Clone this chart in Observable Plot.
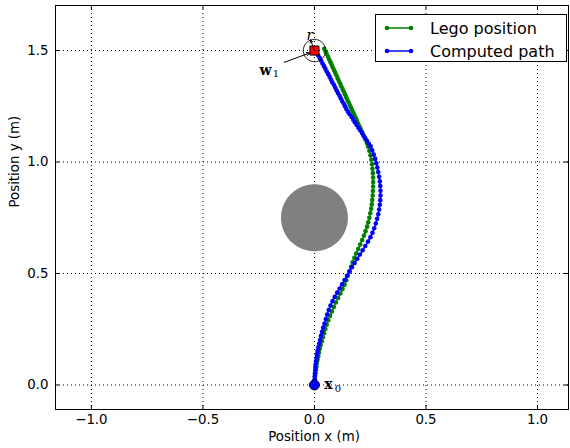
<!DOCTYPE html>
<html>
<head>
<meta charset="utf-8">
<script src="https://cdn.jsdelivr.net/npm/d3@7"></script>
<script src="https://cdn.jsdelivr.net/npm/@observablehq/plot@0.6"></script>
<style>
  html, body { margin: 0; padding: 0; background: #fff; }
  #chart { width: 570px; height: 448px; }
</style>
</head>
<body>
<div id="chart"></div>
<script>
// ---------------- data ----------------
const xTicks = [-1, -0.5, 0, 0.5, 1];
const yTicks = [0, 0.5, 1, 1.5];
const xDomain = [-1.161, 1.139];
const yDomain = [-0.11, 1.702];

const seriesNames = ["Lego position", "Computed path"];
const seriesColors = ["#008000", "#0000ff"];

// Lego position (green)
const lego = [
[0.000,0.000],[0.001,0.013],[0.002,0.026],[0.003,0.040],[0.005,0.054],[0.007,0.068],[0.009,0.083],[0.011,0.098],
[0.014,0.113],[0.017,0.129],[0.020,0.145],[0.024,0.162],[0.028,0.179],[0.033,0.196],[0.038,0.214],[0.043,0.232],
[0.049,0.251],[0.055,0.270],[0.062,0.290],[0.070,0.310],[0.078,0.330],[0.087,0.350],[0.096,0.370],[0.106,0.390],
[0.116,0.410],[0.126,0.430],[0.135,0.450],[0.143,0.470],[0.150,0.490],[0.157,0.510],[0.164,0.530],[0.171,0.550],
[0.179,0.570],[0.187,0.590],[0.196,0.610],[0.205,0.630],[0.214,0.650],[0.222,0.670],[0.229,0.690],[0.236,0.710],
[0.241,0.730],[0.246,0.750],[0.250,0.770],[0.254,0.790],[0.257,0.810],[0.259,0.830],[0.261,0.850],[0.262,0.870],
[0.263,0.890],[0.263,0.910],[0.263,0.930],[0.262,0.950],[0.260,0.970],[0.258,0.990],[0.255,1.010],[0.251,1.030],
[0.246,1.050],[0.240,1.070],[0.235,1.085],[0.229,1.100],[0.224,1.112],[0.218,1.124],[0.213,1.136],[0.207,1.148],
[0.202,1.160],[0.196,1.172],[0.191,1.184],[0.186,1.196],[0.180,1.208],[0.175,1.220],[0.169,1.232],[0.164,1.244],
[0.158,1.256],[0.153,1.268],[0.147,1.280],[0.142,1.292],[0.137,1.304],[0.131,1.316],[0.126,1.328],[0.120,1.340],
[0.115,1.352],[0.109,1.364],[0.104,1.376],[0.099,1.388],[0.093,1.400],[0.088,1.412],[0.082,1.424],[0.077,1.436],
[0.072,1.448],[0.066,1.460],[0.061,1.472],[0.055,1.484],[0.050,1.496],[0.044,1.508]
];

// Computed path (blue)
const computed = [
[0.000,0.000],[0.000,0.012],[0.001,0.025],[0.001,0.038],[0.002,0.051],[0.003,0.064],[0.004,0.078],[0.005,0.092],
[0.007,0.106],[0.009,0.121],[0.011,0.136],[0.014,0.152],[0.017,0.168],[0.021,0.185],[0.025,0.202],[0.029,0.220],
[0.034,0.238],[0.039,0.257],[0.045,0.276],[0.051,0.296],[0.057,0.316],[0.064,0.336],[0.072,0.356],[0.081,0.376],
[0.091,0.395],[0.102,0.414],[0.113,0.433],[0.124,0.452],[0.135,0.471],[0.146,0.490],[0.157,0.509],[0.168,0.528],
[0.180,0.547],[0.192,0.566],[0.204,0.585],[0.216,0.604],[0.228,0.623],[0.240,0.643],[0.251,0.663],[0.260,0.683],
[0.268,0.703],[0.275,0.724],[0.281,0.745],[0.286,0.766],[0.290,0.787],[0.293,0.808],[0.295,0.829],[0.296,0.850],
[0.296,0.871],[0.295,0.892],[0.293,0.913],[0.290,0.934],[0.286,0.955],[0.282,0.975],[0.277,0.995],[0.272,1.014],
[0.266,1.033],[0.259,1.052],[0.252,1.070],[0.244,1.082],[0.236,1.094],[0.228,1.106],[0.220,1.118],[0.213,1.130],
[0.205,1.142],[0.197,1.154],[0.189,1.166],[0.181,1.178],[0.174,1.190],[0.166,1.202],[0.158,1.214],[0.150,1.226],
[0.143,1.238],[0.137,1.250],[0.131,1.262],[0.124,1.274],[0.118,1.286],[0.112,1.298],[0.105,1.310],[0.099,1.322],
[0.093,1.334],[0.087,1.346],[0.080,1.358],[0.074,1.370],[0.068,1.382],[0.062,1.394],[0.055,1.406],[0.049,1.418],
[0.043,1.430],[0.036,1.442],[0.030,1.454],[0.024,1.466],[0.017,1.478],[0.009,1.490],[0.000,1.500]
];

const startPoint = [[0, 0]];
const waypoint = [[0, 1.5]];
const obstacleCenter = [0, 0.75];
const obstacleRadius = 0.15;
const waypointRadius = 0.05;
const rArrow = [{x1: 0, y1: 1.5, x2: -0.017, y2: 1.547}];
const wArrow = [{x1: -0.135, y1: 1.447, x2: -0.022, y2: 1.489}];

// ---------------- helpers ----------------
const circlePts = (c, r) => d3.range(0, 361, 3).map(a => [c[0] + r * Math.cos(a * Math.PI / 180), c[1] + r * Math.sin(a * Math.PI / 180)]);
const X = d => d[0], Y = d => d[1];

const legend = (index, scales, values, dims) => {
  const right = dims.width - dims.marginRight;
  const top = dims.marginTop;
  const g = d3.create("svg:g").attr("text-anchor", "start");
  const bx = right - 193, by = top + 9, bw = 191, bh = 47;
  g.append("rect").attr("x", bx + 0.5).attr("y", by + 0.5).attr("width", bw).attr("height", bh)
    .attr("fill", "white").attr("stroke", "black").attr("stroke-width", 1);
  seriesNames.forEach((name, i) => {
    const yy = by + 14 + i * 23;
    const c = seriesColors[i];
    g.append("line").attr("x1", bx + 12).attr("x2", bx + 36).attr("y1", yy).attr("y2", yy)
      .attr("stroke", c).attr("stroke-width", 1.5);
    [bx + 12, bx + 36].forEach(cx => g.append("circle").attr("cx", cx).attr("cy", yy).attr("r", 2.3).attr("fill", c));
    g.append("text").attr("x", bx + 55).attr("y", yy).attr("dy", "0.36em").attr("text-anchor", "start")
      .attr("font-family", "DejaVu Sans").attr("font-size", 16).attr("fill", "black").text(name);
  });
  return g.node();
};

const W = 570, H = 448;
const mL = 55, mR = 2, mT = 5, mB = 39;
const frameW = W - mL - mR, frameH = H - mT - mB;

const serif = "DejaVu Serif";

const chart = Plot.plot({
  width: W, height: H,
  marginLeft: mL, marginRight: mR, marginTop: mT, marginBottom: mB,
  style: {fontFamily: "DejaVu Sans", fontSize: "13.33px", background: "white", color: "black"},
  x: {domain: xDomain, ticks: xTicks, tickSize: 0, tickPadding: 5, tickFormat: d3.format(".1f"), label: null},
  y: {domain: yDomain, ticks: yTicks, tickSize: 0, tickPadding: 7, tickFormat: d3.format(".1f"), label: null},
  marks: [
    // grid
    Plot.ruleX(xTicks, {stroke: "black", strokeWidth: 1, strokeDasharray: "1,3"}),
    Plot.ruleY(yTicks, {stroke: "black", strokeWidth: 1, strokeDasharray: "1,3"}),
    // obstacle
    Plot.line(circlePts(obstacleCenter, obstacleRadius), {x: X, y: Y, fill: "#808080", stroke: "none", curve: "linear-closed"}),
    // paths
    Plot.line(lego, {x: X, y: Y, stroke: seriesColors[0], strokeWidth: 1.5}),
    Plot.dot(lego, {x: X, y: Y, r: 2.3, fill: seriesColors[0], stroke: "none"}),
    Plot.line(computed, {x: X, y: Y, stroke: seriesColors[1], strokeWidth: 1.5}),
    Plot.dot(computed, {x: X, y: Y, r: 2.3, fill: seriesColors[1], stroke: "none"}),
    // waypoint circle, markers
    Plot.line(circlePts(waypoint[0], waypointRadius), {x: X, y: Y, stroke: "black", strokeWidth: 1, curve: "linear-closed"}),
    Plot.dot(waypoint, {x: X, y: Y, symbol: "square", r: 5.1, fill: "red", stroke: "black", strokeWidth: 1}),
    Plot.dot(startPoint, {x: X, y: Y, r: 5, fill: "blue", stroke: "black", strokeWidth: 1}),
    // annotations
    Plot.arrow(rArrow, {x1: "x1", y1: "y1", x2: "x2", y2: "y2", stroke: "black", strokeWidth: 1, headLength: 4}),
    Plot.arrow(wArrow, {x1: "x1", y1: "y1", x2: "x2", y2: "y2", stroke: "black", strokeWidth: 1, headLength: 5}),
    Plot.text(waypoint, {x: X, y: Y, text: () => "r", dx: -4.5, dy: -15, fontFamily: serif, fontStyle: "italic", fontSize: 14, fill: "black"}),
    Plot.text(waypoint, {x: X, y: Y, text: () => "w", dx: -49, dy: 20, fontFamily: serif, fontWeight: "bold", fontSize: 14, fill: "black"}),
    Plot.text(waypoint, {x: X, y: Y, text: () => "1", dx: -38.5, dy: 23, fontFamily: serif, fontSize: 10, fill: "black"}),
    Plot.text(startPoint, {x: X, y: Y, text: () => "x", dx: 14, dy: 0, fontFamily: serif, fontWeight: "bold", fontSize: 14, fill: "black"}),
    Plot.text(startPoint, {x: X, y: Y, text: () => "0", dx: 23.5, dy: 4, fontFamily: serif, fontSize: 10, fill: "black"}),
    // inward ticks on all four sides
    Plot.ruleX(xTicks, {stroke: "black", insetTop: frameH - 4}),
    Plot.ruleX(xTicks, {stroke: "black", insetBottom: frameH - 4}),
    Plot.ruleY(yTicks, {stroke: "black", insetRight: frameW - 4}),
    Plot.ruleY(yTicks, {stroke: "black", insetLeft: frameW - 4}),
    Plot.frame({stroke: "black", strokeWidth: 1}),
    // axis titles
    Plot.text(["Position x (m)"], {frameAnchor: "bottom", text: d => d, dy: 31, dx: 2, fontSize: 13.33, fill: "black"}),
    Plot.text(["Position y (m)"], {frameAnchor: "left", text: d => d, rotate: -90, dx: -41, fontSize: 13.33, fill: "black"}),
    legend
  ]
});
document.getElementById("chart").appendChild(chart);
</script>
</body>
</html>
